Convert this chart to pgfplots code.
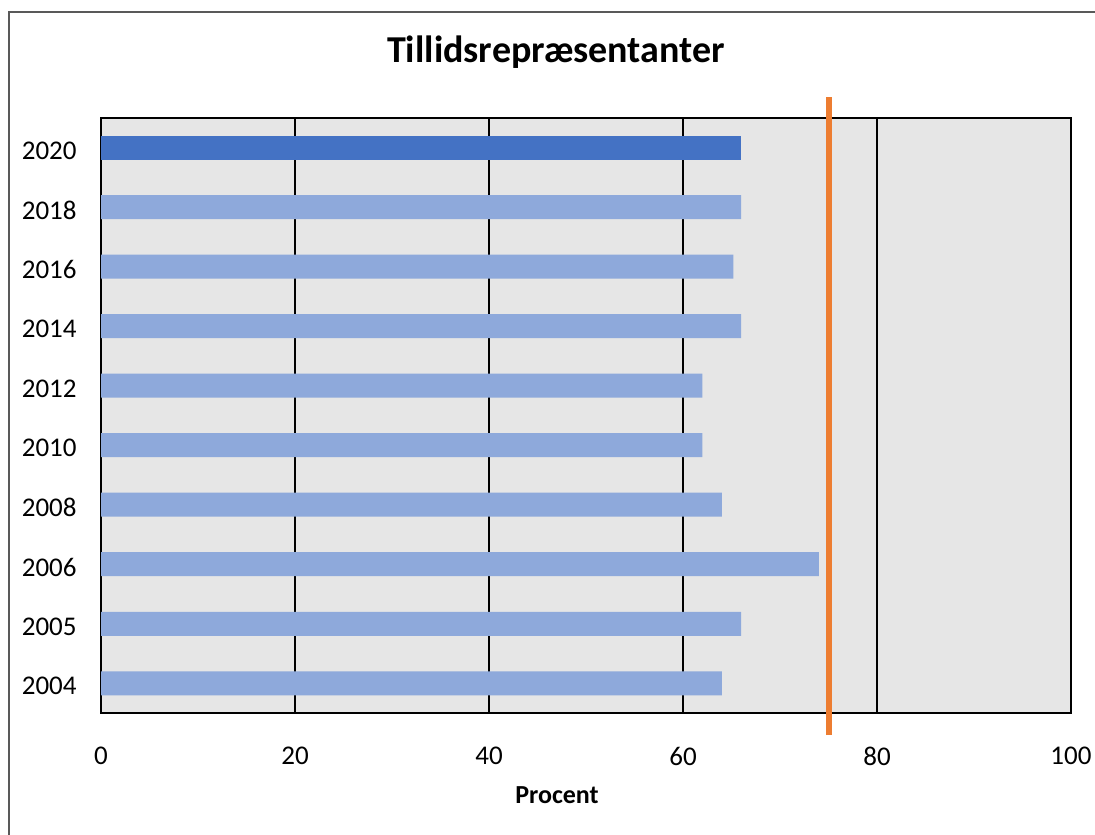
\documentclass[border=0pt]{standalone}
\usepackage{fontspec}
\setmainfont{Carlito}
\usepackage{pgfplots}
\pgfplotsset{compat=1.18}
\definecolor{barlight}{HTML}{8EA9DB}
\definecolor{bardark}{HTML}{4472C4}
\definecolor{refline}{HTML}{ED7D31}
\definecolor{plotbg}{HTML}{E6E6E6}
\definecolor{framecol}{HTML}{595959}

\begin{document}
\begin{tikzpicture}
\path[use as bounding box] (0,0) rectangle (547.5pt,417pt);
% chart frame
\draw[framecol, line width=0.6pt] (4.5pt,-5pt) -- (4.5pt,411pt) -- (560pt,411pt);
\node[font=\fontsize{19}{23}\selectfont\bfseries] at (278pt,391pt) {Tillidsrepræsentanter};
\begin{axis}[
  at={(50.5pt,60.5pt)}, anchor=south west,
  scale only axis, width=485pt, height=297.5pt,
  xmin=0, xmax=100, ymin=-0.5, ymax=9.5,
  xtick={0,20,...,100},
  ytick={0,...,9},
  yticklabels={2004,2005,2006,2008,2010,2012,2014,2016,2018,2020},
  major tick length=0pt,
  xmajorgrids, grid style={black, line width=0.6pt},
  axis background/.style={fill=plotbg},
  axis line style={black, line width=0.6pt},
  tick label style={font=\fontsize{13.5}{16}\selectfont, inner sep=0pt},
  yticklabel style={yshift=-1.5pt},
  /pgf/number format/assume math mode=true,
  xticklabel shift=17pt, yticklabel shift=12pt,
  xlabel={Procent},
  xlabel style={font=\fontsize{13}{16}\selectfont\bfseries, at={(axis description cs:0.5,0)}, anchor=center, yshift=-41pt, xshift=-14.5pt},
  clip=false,
]
% earlier years
\addplot[xbar, bar width=12pt, bar shift=0pt, fill=barlight, draw=none]
  coordinates {(64,0) (66,1) (74,2) (64,3) (62,4) (62,5) (66,6) (65.2,7) (66,8)};
% latest year
\addplot[xbar, bar width=12pt, bar shift=0pt, fill=bardark, draw=none]
  coordinates {(66,9)};
% target line
\addplot[refline, line width=3pt, forget plot] coordinates {(75,-0.87) (75,9.85)};
\end{axis}
\end{tikzpicture}
\end{document}
